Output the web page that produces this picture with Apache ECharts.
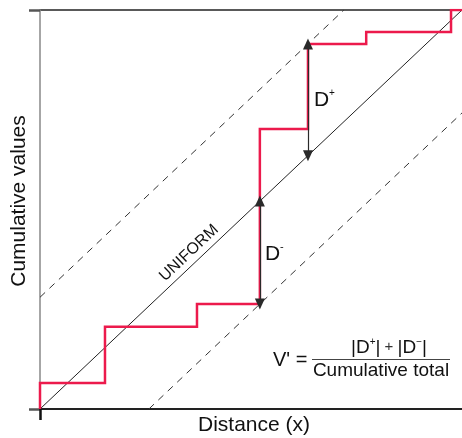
<!DOCTYPE html>
<html>
<head>
<meta charset="utf-8">
<style>html,body{margin:0;padding:0;background:#fff;}#c{width:462px;height:438px;}</style>
<script src="https://cdn.jsdelivr.net/npm/echarts@6/dist/echarts.min.js"></script>
</head>
<body>
<div id="c"></div>
<script>
// Step (observed cumulative) data: x positions of jumps and level after each jump
const stepX = [0, 0.154, 0.372, 0.521, 0.635, 0.773, 0.974];
const stepY = [0.065, 0.206, 0.263, 0.702, 0.915, 0.945, 1.0];
// Uniform (expected) cumulative line
const uniformX = [0, 1];
const uniformY = [0, 1];
// Indices of the steps where D+ and D- occur
const dPlusIdx = 4;
const dMinusIdx = 3;
// Texts
const xName = 'Distance (x)';
const yName = 'Cumulative values';
const uniformLabel = 'UNIFORM';
const formulaLeft = "V' =";
const formulaDen = 'Cumulative total';

const FONT = '"Liberation Sans", Arial, Helvetica, sans-serif';
const RED = '#ec1a4c';

const dPlusX = stepX[dPlusIdx];
const dPlusTop = stepY[dPlusIdx];
const dPlus = dPlusTop - dPlusX;
const dMinusX = stepX[dMinusIdx];
const dMinusBot = stepY[dMinusIdx - 1];
const dMinus = dMinusX - dMinusBot;

const stepPts = [[0, 0]];
let prev = 0;
for (let i = 0; i < stepX.length; i++) {
  stepPts.push([stepX[i], prev]);
  stepPts.push([stepX[i], stepY[i]]);
  prev = stepY[i];
}
stepPts.push([1, prev]);

const chart = echarts.init(document.getElementById('c'), null, {renderer: 'canvas'});
chart.setOption({
  animation: false,
  backgroundColor: '#fff',
  grid: {left: 40, right: 0, top: 10, bottom: 29},
  xAxis: {
    type: 'value', min: 0, max: 1, interval: 1,
    axisLine: {lineStyle: {color: '#111', width: 1.5}},
    axisTick: {show: true, customValues: [0], length: 11, lineStyle: {color: '#111', width: 2.5}},
    axisLabel: {show: false},
    splitLine: {show: false}
  },
  yAxis: {
    type: 'value', min: 0, max: 1, interval: 1,
    axisLine: {show: true, lineStyle: {color: '#888', width: 1.5}},
    axisTick: {show: true, length: 11, lineStyle: {color: '#555', width: 2.5}},
    axisLabel: {show: false},
    splitLine: {show: true, lineStyle: {color: '#222', width: 1.5}}
  },
  series: [
    {type: 'line', data: uniformX.map((x, i) => [x, uniformY[i]]), symbol: 'none',
     lineStyle: {color: '#222', width: 1}, z: 2},
    {type: 'line', data: [[0, dPlus], [1 - dPlus, 1]], symbol: 'none',
     lineStyle: {color: '#333', width: 1, type: [7, 6]}, z: 2},
    {type: 'line', data: [[dMinus, 0], [1, 1 - dMinus]], symbol: 'none',
     lineStyle: {color: '#333', width: 1, type: [7, 6]}, z: 2},
    {type: 'line', data: stepPts, symbol: 'none',
     lineStyle: {color: RED, width: 2.5, join: 'miter'}, z: 3},
    {type: 'line', data: [], z: 6,
     markLine: {
       silent: true, animation: false,
       symbol: ['triangle', 'triangle'], symbolSize: [10, 11],
       lineStyle: {color: '#2a2a2a', width: 1.2, type: 'solid'},
       itemStyle: {color: '#222'},
       label: {show: false},
       data: [
         [{coord: [dPlusX, dPlusX]}, {coord: [dPlusX, dPlusTop]}],
         [{coord: [dMinusX, dMinusBot]}, {coord: [dMinusX, dMinusX]}]
       ]
     }}
  ],
  graphic: [
    {type: 'text', x: 254, y: 425, style: {text: xName, font: '21px ' + FONT, fill: '#111', align: 'center', verticalAlign: 'middle'}},
    {type: 'text', x: 19, y: 201, rotation: Math.PI / 2, style: {text: yName, font: '21px ' + FONT, fill: '#111', align: 'center', verticalAlign: 'middle'}},
    {type: 'text', x: 189, y: 253, rotation: 0.757, style: {text: uniformLabel, font: '16px ' + FONT, fill: '#111', align: 'center', verticalAlign: 'middle'}},
    {type: 'text', x: 314, y: 100, style: {text: 'D', font: '21px ' + FONT, fill: '#111', align: 'left', verticalAlign: 'middle'}},
    {type: 'text', x: 329, y: 93, style: {text: '+', font: '10px ' + FONT, fill: '#111', align: 'left', verticalAlign: 'middle'}},
    {type: 'text', x: 265, y: 254, style: {text: 'D', font: '21px ' + FONT, fill: '#111', align: 'left', verticalAlign: 'middle'}},
    {type: 'text', x: 280, y: 247, style: {text: '-', font: '11px ' + FONT, fill: '#111', align: 'left', verticalAlign: 'middle'}},
    {type: 'text', x: 273, y: 360, style: {text: formulaLeft, font: '20px ' + FONT, fill: '#111', align: 'left', verticalAlign: 'middle'}},
    {type: 'line', shape: {x1: 312, y1: 359.5, x2: 450, y2: 359.5}, style: {stroke: '#444', lineWidth: 1}},
    {type: 'text', x: 381, y: 371, style: {text: formulaDen, font: '19px ' + FONT, fill: '#111', align: 'center', verticalAlign: 'middle'}},
    {type: 'text', x: 389, y: 347, style: {
      text: '{n||D}{s|+}{n||}{p| + }{n||D}{s|−}{n||}',
      align: 'center', verticalAlign: 'middle',
      rich: {
        n: {font: '19px ' + FONT, fill: '#111', lineHeight: 20, verticalAlign: 'bottom'},
        p: {font: '15px ' + FONT, fill: '#333', lineHeight: 15, verticalAlign: 'middle'},
        s: {font: '10px ' + FONT, fill: '#111', lineHeight: 10, verticalAlign: 'top'}
      }
    }}
  ]
});
</script>
</body>
</html>
